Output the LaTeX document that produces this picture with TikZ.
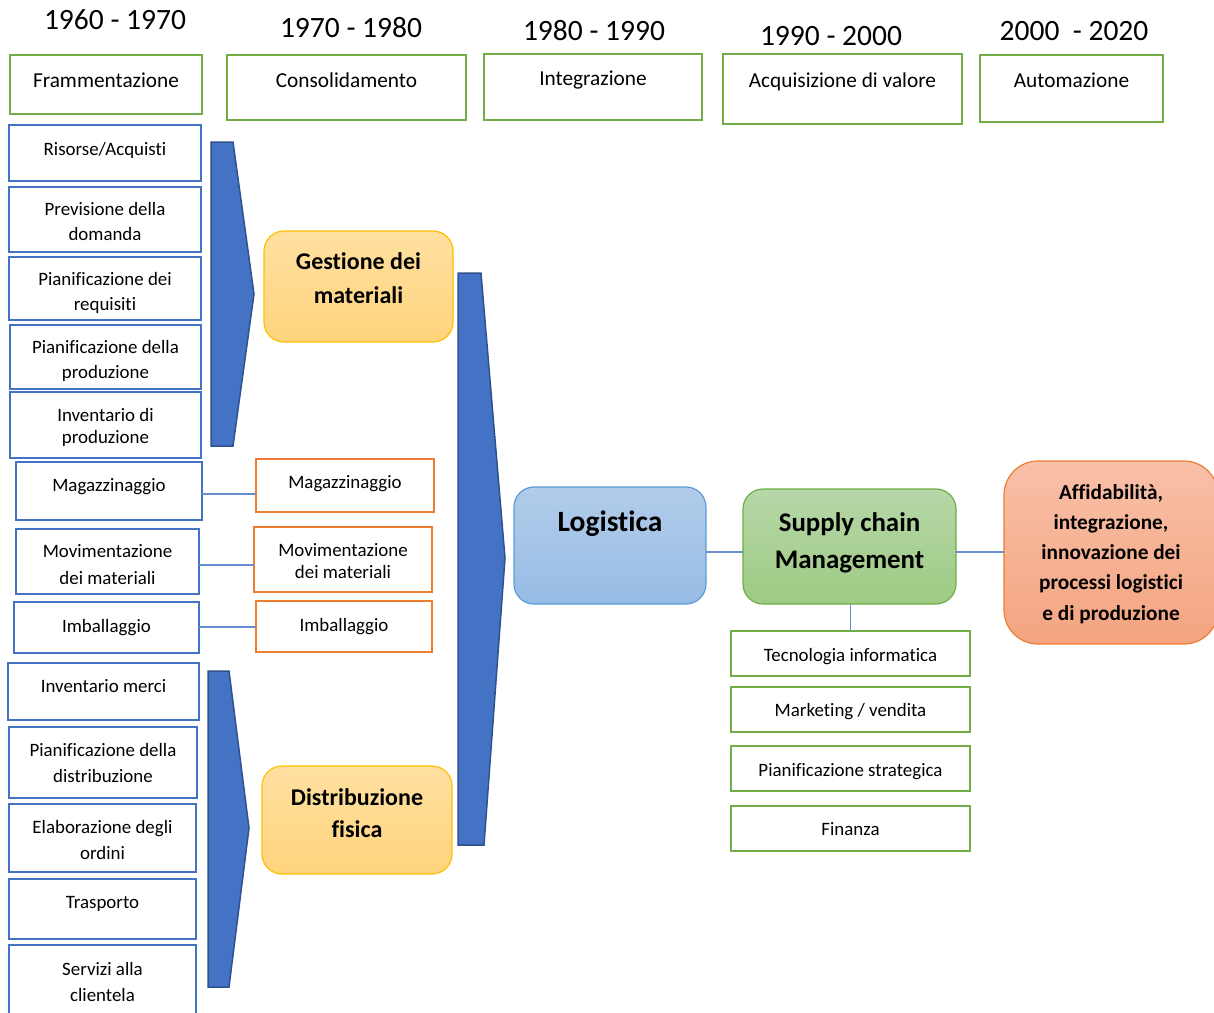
\documentclass[tikz,border=0pt]{standalone}
\usepackage{fontspec}
\setmainfont{Carlito}[Ligatures=NoCommon]
\definecolor{bblue}{HTML}{4472C4}
\definecolor{bdark}{HTML}{2F528F}
\definecolor{ggreen}{HTML}{70AD47}
\definecolor{oorange}{HTML}{ED7D31}
\definecolor{ygold}{HTML}{FFC000}
\definecolor{lblue}{HTML}{5B9BD5}
\definecolor{ytop}{RGB}{255,224,160}
\definecolor{ybot}{RGB}{255,212,125}
\definecolor{btop}{RGB}{178,204,234}
\definecolor{bbot}{RGB}{150,188,228}
\definecolor{gtop}{RGB}{182,215,168}
\definecolor{gbot}{RGB}{158,203,131}
\definecolor{otop}{RGB}{248,192,168}
\definecolor{obot}{RGB}{244,164,128}
% box: style, name, x1, y1, x2, y2, baseline of last text line, font, text
\newcommand\mkbox[9]{%
 \pgfmathsetmacro\mkW{#5-#3}\pgfmathsetmacro\mkH{#6-#4}%
 \node[#1, minimum width=\mkW pt, minimum height=\mkH pt] (#2) at ({(#3+#5)/2},{(#4+#6)/2}) {};%
 \node[anchor=base, align=center, inner sep=0pt, font=#8] (#2-t) at ({(#3+#5)/2},#7) {#9};}
\begin{document}
\begin{tikzpicture}[x=1pt,y=-1pt,
  base/.style={inner sep=0pt, outer sep=0pt},
  lbox/.style={base, draw=bblue, line width=2.5pt},
  hbox/.style={base, draw=ggreen, line width=2.5pt},
  obox/.style={base, draw=oorange, line width=2.5pt},
  ybox/.style={base, draw=ygold, line width=1.2pt, rounded corners=20pt, top color=ytop, bottom color=ybot},
  logbox/.style={base, draw=lblue, line width=1.2pt, rounded corners=20pt, top color=btop, bottom color=bbot},
  scmbox/.style={base, draw=ggreen, line width=1.2pt, rounded corners=20pt, top color=gtop, bottom color=gbot},
  affbox/.style={base, draw=oorange, line width=1.2pt, rounded corners=34pt, top color=otop, bottom color=obot},
  chev/.style={fill=bblue, draw=bdark, line width=1.5pt, line join=miter},
  conn/.style={draw=bblue!80, line width=1.2pt},
]
\useasboundingbox (0,0) rectangle (1214,1012);
\def\fyr{\fontsize{29.5}{34}\selectfont}
\def\fhd{\fontsize{21.3}{25}\selectfont}
\def\fsm{\fontsize{18.9}{25}\selectfont}

% year labels
\node[base, anchor=base, font=\fyr] (y1) at (115,29) {1960 - 1970};
\node[base, anchor=base, font=\fyr] (y2) at (351,37) {1970 - 1980};
\node[base, anchor=base, font=\fyr] (y3) at (594,40) {1980 - 1990};
\node[base, anchor=base, font=\fyr] (y4) at (831,45) {1990 - 2000};
\node[base, anchor=base, font=\fyr] (y5) at (1074,40) {2000\ \ - 2020};

% header boxes
\mkbox{hbox}{h1}{10}{55}{202}{114}{87}{\fhd}{Frammentazione}
\mkbox{hbox}{h2}{227}{55}{466}{120}{87}{\fhd}{Consolidamento}
\mkbox{hbox}{h3}{484}{54}{702}{120}{85}{\fhd}{Integrazione}
\mkbox{hbox}{h4}{723}{54}{962}{124}{87}{\fhd}{Acquisizione di valore}
\mkbox{hbox}{h5}{980}{55}{1163}{122}{87}{\fhd}{Automazione}

% left column
\mkbox{lbox}{l1}{9}{125}{201}{181}{155}{\fsm}{Risorse/Acquisti}
\mkbox{lbox}{l2}{9}{187}{201}{252}{240}{\fsm}{Previsione della\\domanda}
\mkbox{lbox}{l3}{9}{257}{201}{320}{310}{\fsm}{Pianificazione dei\\requisiti}
\mkbox{lbox}{l4}{10}{325}{201}{389}{378}{\fsm}{Pianificazione della\\produzione}
\mkbox{lbox}{l5}{10}{392}{201}{458}{443}{\fontsize{18.9}{22}\selectfont}{Inventario di\\produzione}
\mkbox{lbox}{l6}{16}{462}{202}{520}{491}{\fsm}{Magazzinaggio}
\mkbox{lbox}{l7}{16}{529}{199}{594}{584}{\fontsize{18.9}{27}\selectfont}{Movimentazione\\dei materiali}
\mkbox{lbox}{l8}{14}{602}{199}{653}{632}{\fsm}{Imballaggio}
\mkbox{lbox}{l9}{8}{663}{199}{720}{692}{\fsm}{Inventario merci}
\mkbox{lbox}{l10}{9}{727}{197}{798}{782}{\fontsize{18.9}{26}\selectfont}{Pianificazione della\\distribuzione}
\mkbox{lbox}{l11}{9}{804}{196}{872}{859}{\fontsize{18.9}{26}\selectfont}{Elaborazione degli\\ordini}
\mkbox{lbox}{l12}{9}{879}{196}{939}{908}{\fsm}{Trasporto}
\mkbox{lbox}{l13}{9}{945}{196}{1030}{1001}{\fontsize{18.9}{26}\selectfont}{Servizi alla\\clientela}

% chevrons
\draw[chev] (211,142) -- (233,142) -- (254,294) -- (233,446) -- (211,446) -- cycle;
\draw[chev] (208,671) -- (229,671) -- (249,828) -- (229,987) -- (208,987) -- cycle;
\draw[chev] (458,273) -- (481,273) -- (505,558) -- (484,845) -- (458,845) -- cycle;

% yellow boxes
\mkbox{ybox}{gm}{264}{231}{453}{342}{303}{\bfseries\fontsize{24}{34}\selectfont}{Gestione dei\\materiali}
\mkbox{ybox}{df}{262}{766}{452}{874}{837}{\bfseries\fontsize{24}{32}\selectfont}{Distribuzione\\fisica}

% orange boxes
\mkbox{obox}{o1}{256}{459}{434}{512}{488}{\fsm}{Magazzinaggio}
\mkbox{obox}{o2}{254}{527}{432}{592}{578}{\fontsize{18.9}{22}\selectfont}{Movimentazione\\dei materiali}
\mkbox{obox}{o3}{256}{601}{432}{652}{631}{\fsm}{Imballaggio}

% central boxes
\mkbox{logbox}{lg}{514}{487}{706}{604}{531}{\bfseries\fontsize{29.5}{34}\selectfont}{Logistica}
\mkbox{scmbox}{scm}{743}{489}{956}{604}{568}{\bfseries\fontsize{26.9}{37}\selectfont}{Supply chain\\Management}
\mkbox{affbox}{aff}{1004}{461}{1218}{644}{620}{\bfseries\fontsize{21.3}{30.2}\selectfont}{Affidabilità,\\integrazione,\\innovazione dei\\processi logistici\\e di produzione}

% right green boxes
\mkbox{hbox}{r1}{731}{631}{970}{676}{661}{\fsm}{Tecnologia informatica}
\mkbox{hbox}{r2}{731}{687}{970}{732}{716}{\fsm}{Marketing / vendita}
\mkbox{hbox}{r3}{731}{746}{970}{791}{776}{\fsm}{Pianificazione strategica}
\mkbox{hbox}{r4}{731}{806}{970}{851}{835}{\fsm}{Finanza}

% connectors
\coordinate (ya) at (0,494);
\coordinate (yb) at (0,565);
\coordinate (yc) at (0,627);
\coordinate (yd) at (0,552);
\draw[conn] (l6.east |- ya) -- (o1.west |- ya);
\draw[conn] (l7.east |- yb) -- (o2.west |- yb);
\draw[conn] (l8.east |- yc) -- (o3.west |- yc);
\draw[conn] (lg.east |- yd) -- (scm.west |- yd);
\draw[conn] (scm.east |- yd) -- (aff.west |- yd);
\draw[conn] (r1.north |- scm.south) -- (r1.north);
\end{tikzpicture}
\end{document}
